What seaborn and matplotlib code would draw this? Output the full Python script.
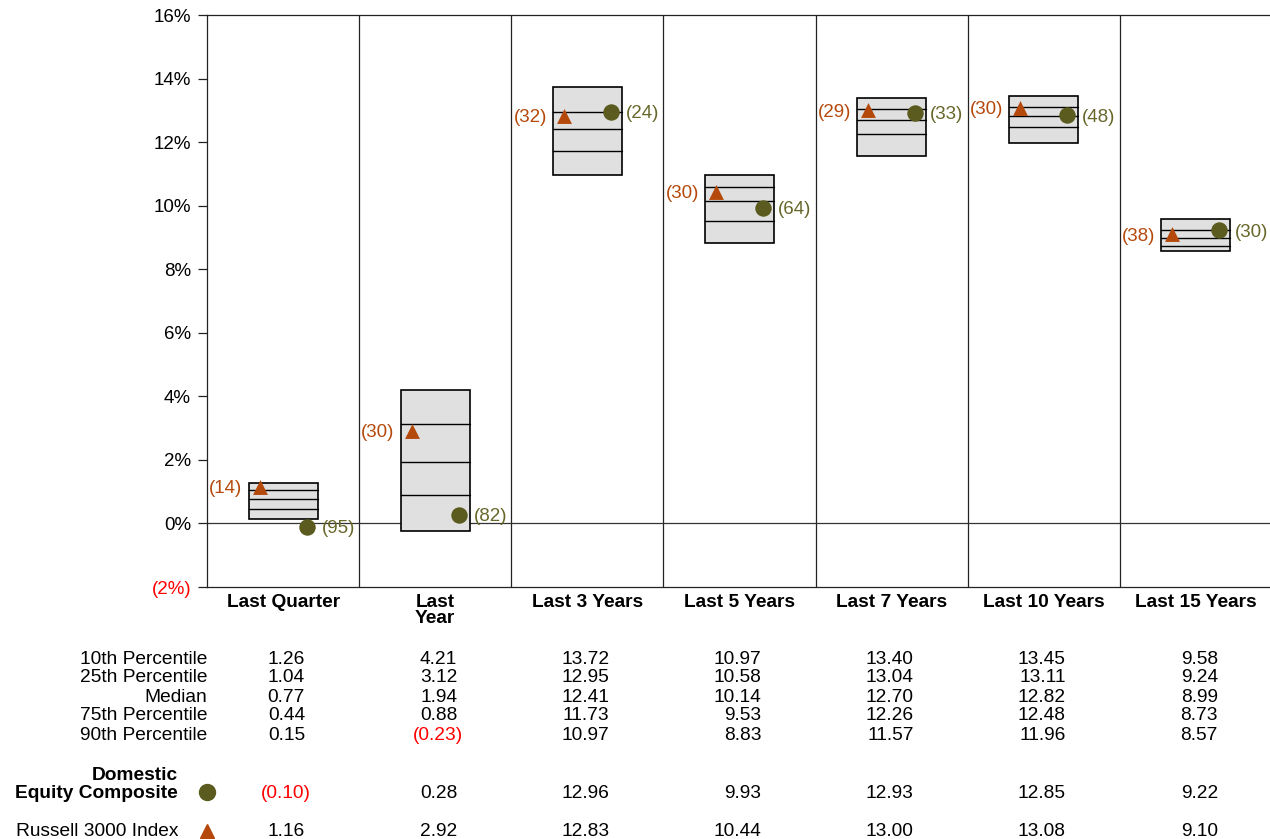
import numpy as np
import pandas as pd
import seaborn as sns
from matplotlib import pyplot as plt
from matplotlib.transforms import blended_transform_factory

# periods and percentile table
periods = ["Last Quarter", "Last\nYear", "Last 3 Years", "Last 5 Years",
           "Last 7 Years", "Last 10 Years", "Last 15 Years"]
p10 = [1.26, 4.21, 13.72, 10.97, 13.40, 13.45, 9.58]
p25 = [1.04, 3.12, 12.95, 10.58, 13.04, 13.11, 9.24]
median = [0.77, 1.94, 12.41, 10.14, 12.70, 12.82, 8.99]
p75 = [0.44, 0.88, 11.73, 9.53, 12.26, 12.48, 8.73]
p90 = [0.15, -0.23, 10.97, 8.83, 11.57, 11.96, 8.57]

composite = [-0.10, 0.28, 12.96, 9.93, 12.93, 12.85, 9.22]
russell = [1.16, 2.92, 12.83, 10.44, 13.00, 13.08, 9.10]
comp_rank = [95, 82, 24, 64, 33, 48, 30]
russ_rank = [14, 30, 32, 30, 29, 30, 38]

row_names = ["10th Percentile", "25th Percentile", "Median",
             "75th Percentile", "90th Percentile"]
y_ticks = [-2, 0, 2, 4, 6, 8, 10, 12, 14, 16]

TRI = "#B5490B"
CIRC = "#5B5B1F"
CIRC_TXT = "#67672A"
BOX = "#E0E0E0"
FS = 13.8

sns.set_theme(style="white")
plt.rcParams['font.family'] = ['Liberation Sans', 'DejaVu Sans']
plt.rcParams['text.color'] = 'black'
plt.rcParams['xtick.color'] = 'black'
plt.rcParams['ytick.color'] = 'black'

W, H = 1270, 839
fig = plt.figure(figsize=(W / 100, H / 100), dpi=100)
ax = fig.add_axes([207 / W, 1 - 587 / H, (1272 - 207) / W, 572 / H])

n = len(periods)
centers = np.arange(n) + 0.5
box_w = 0.453

# percentile boxes
ax.bar(centers, np.array(p10) - np.array(p90), bottom=p90, width=box_w,
       color=BOX, edgecolor="black", linewidth=1.2, zorder=3)
for c, a, b, m in zip(centers, p25, median, p75):
    for v in (a, b, m):
        ax.plot([c - box_w / 2, c + box_w / 2], [v, v], color="black",
                lw=1.0, zorder=4)

# markers
tri_x = centers - box_w / 2 + 0.072
circ_x = centers + box_w / 2 - 0.072
df = pd.DataFrame({"tx": tri_x, "cx": circ_x, "russ": russell, "comp": composite})
sns.scatterplot(data=df, x="tx", y="russ", marker="^", s=115, color=TRI,
                linewidth=0, ax=ax, zorder=5)
sns.scatterplot(data=df, x="cx", y="comp", marker="o", s=140, color=CIRC,
                linewidth=0, ax=ax, zorder=5)

for i in range(n):
    ax.text(tri_x[i] - 0.112, russell[i], f"({russ_rank[i]})", color=TRI,
            fontsize=13.5, ha="right", va="center_baseline", zorder=6)
    ax.text(circ_x[i] + 0.099, composite[i], f"({comp_rank[i]})", color=CIRC_TXT,
            fontsize=13.5, ha="left", va="center_baseline", zorder=6)

# group separators and zero line
for b in range(1, n):
    ax.axvline(b, color="#222222", lw=0.9, zorder=1)
ax.axhline(0, color="#333333", lw=0.9, zorder=1)

ax.set_xlim(0, n)
ax.set_ylim(-2, 16)
ax.set_yticks(y_ticks)
ax.set_yticklabels([f"({abs(t)}%)" if t < 0 else f"{t}%" for t in y_ticks],
                   fontsize=13.5)
for lab, t in zip(ax.get_yticklabels(), y_ticks):
    if t < 0:
        lab.set_color("red")
ax.tick_params(axis="y", direction="out", length=6.5, width=0.9, color="#222222",
               pad=5, left=True)
ax.set_xticks(centers)
ax.set_xticklabels(periods, fontsize=FS, fontweight="bold", linespacing=0.95)
ax.tick_params(axis="x", length=0, pad=5)
ax.set_xlabel("")
ax.set_ylabel("")
for side in ("left", "top", "bottom"):
    ax.spines[side].set_color("#222222")
    ax.spines[side].set_linewidth(0.9)
ax.spines["right"].set_visible(False)


# table below
def fmt(v):
    return f"({abs(v):.2f})" if v < 0 else f"{v:.2f}"


trans = blended_transform_factory(ax.transData, fig.transFigure)
num_off = 22 / 152.2
paren_off = 6.3 / 152.2


def put_row(vals, py):
    for c, v in zip(centers, vals):
        x = c + num_off + (paren_off if v < 0 else 0)
        ax.text(x, 1 - py / H, fmt(v), transform=trans, fontsize=FS,
                ha="right", va="center_baseline",
                color="red" if v < 0 else "black", clip_on=False)


for name, vals, py in zip(row_names, [p10, p25, median, p75, p90],
                          [657, 676, 695, 714, 733]):
    fig.text(207 / W, 1 - py / H, name, fontsize=FS, ha="right",
             va="center_baseline")
    put_row(vals, py)

fig.text(178 / W, 1 - 773 / H, "Domestic", fontsize=FS, fontweight="bold",
         ha="right", va="center_baseline")
fig.text(178 / W, 1 - 792 / H, "Equity Composite", fontsize=FS,
         fontweight="bold", ha="right", va="center_baseline")
put_row(composite, 792)
fig.text(178 / W, 1 - 829 / H, "Russell 3000 Index", fontsize=FS,
         ha="right", va="center_baseline")
put_row(russell, 829)

fig.add_artist(plt.Line2D([207 / W], [1 - 792 / H], marker="o", markersize=11.5,
                          color=CIRC, linestyle="none"))
fig.add_artist(plt.Line2D([207 / W], [1 - 831 / H], marker="^", markersize=10,
                          color=TRI, linestyle="none"))

fig.savefig("out.png", dpi=100)
